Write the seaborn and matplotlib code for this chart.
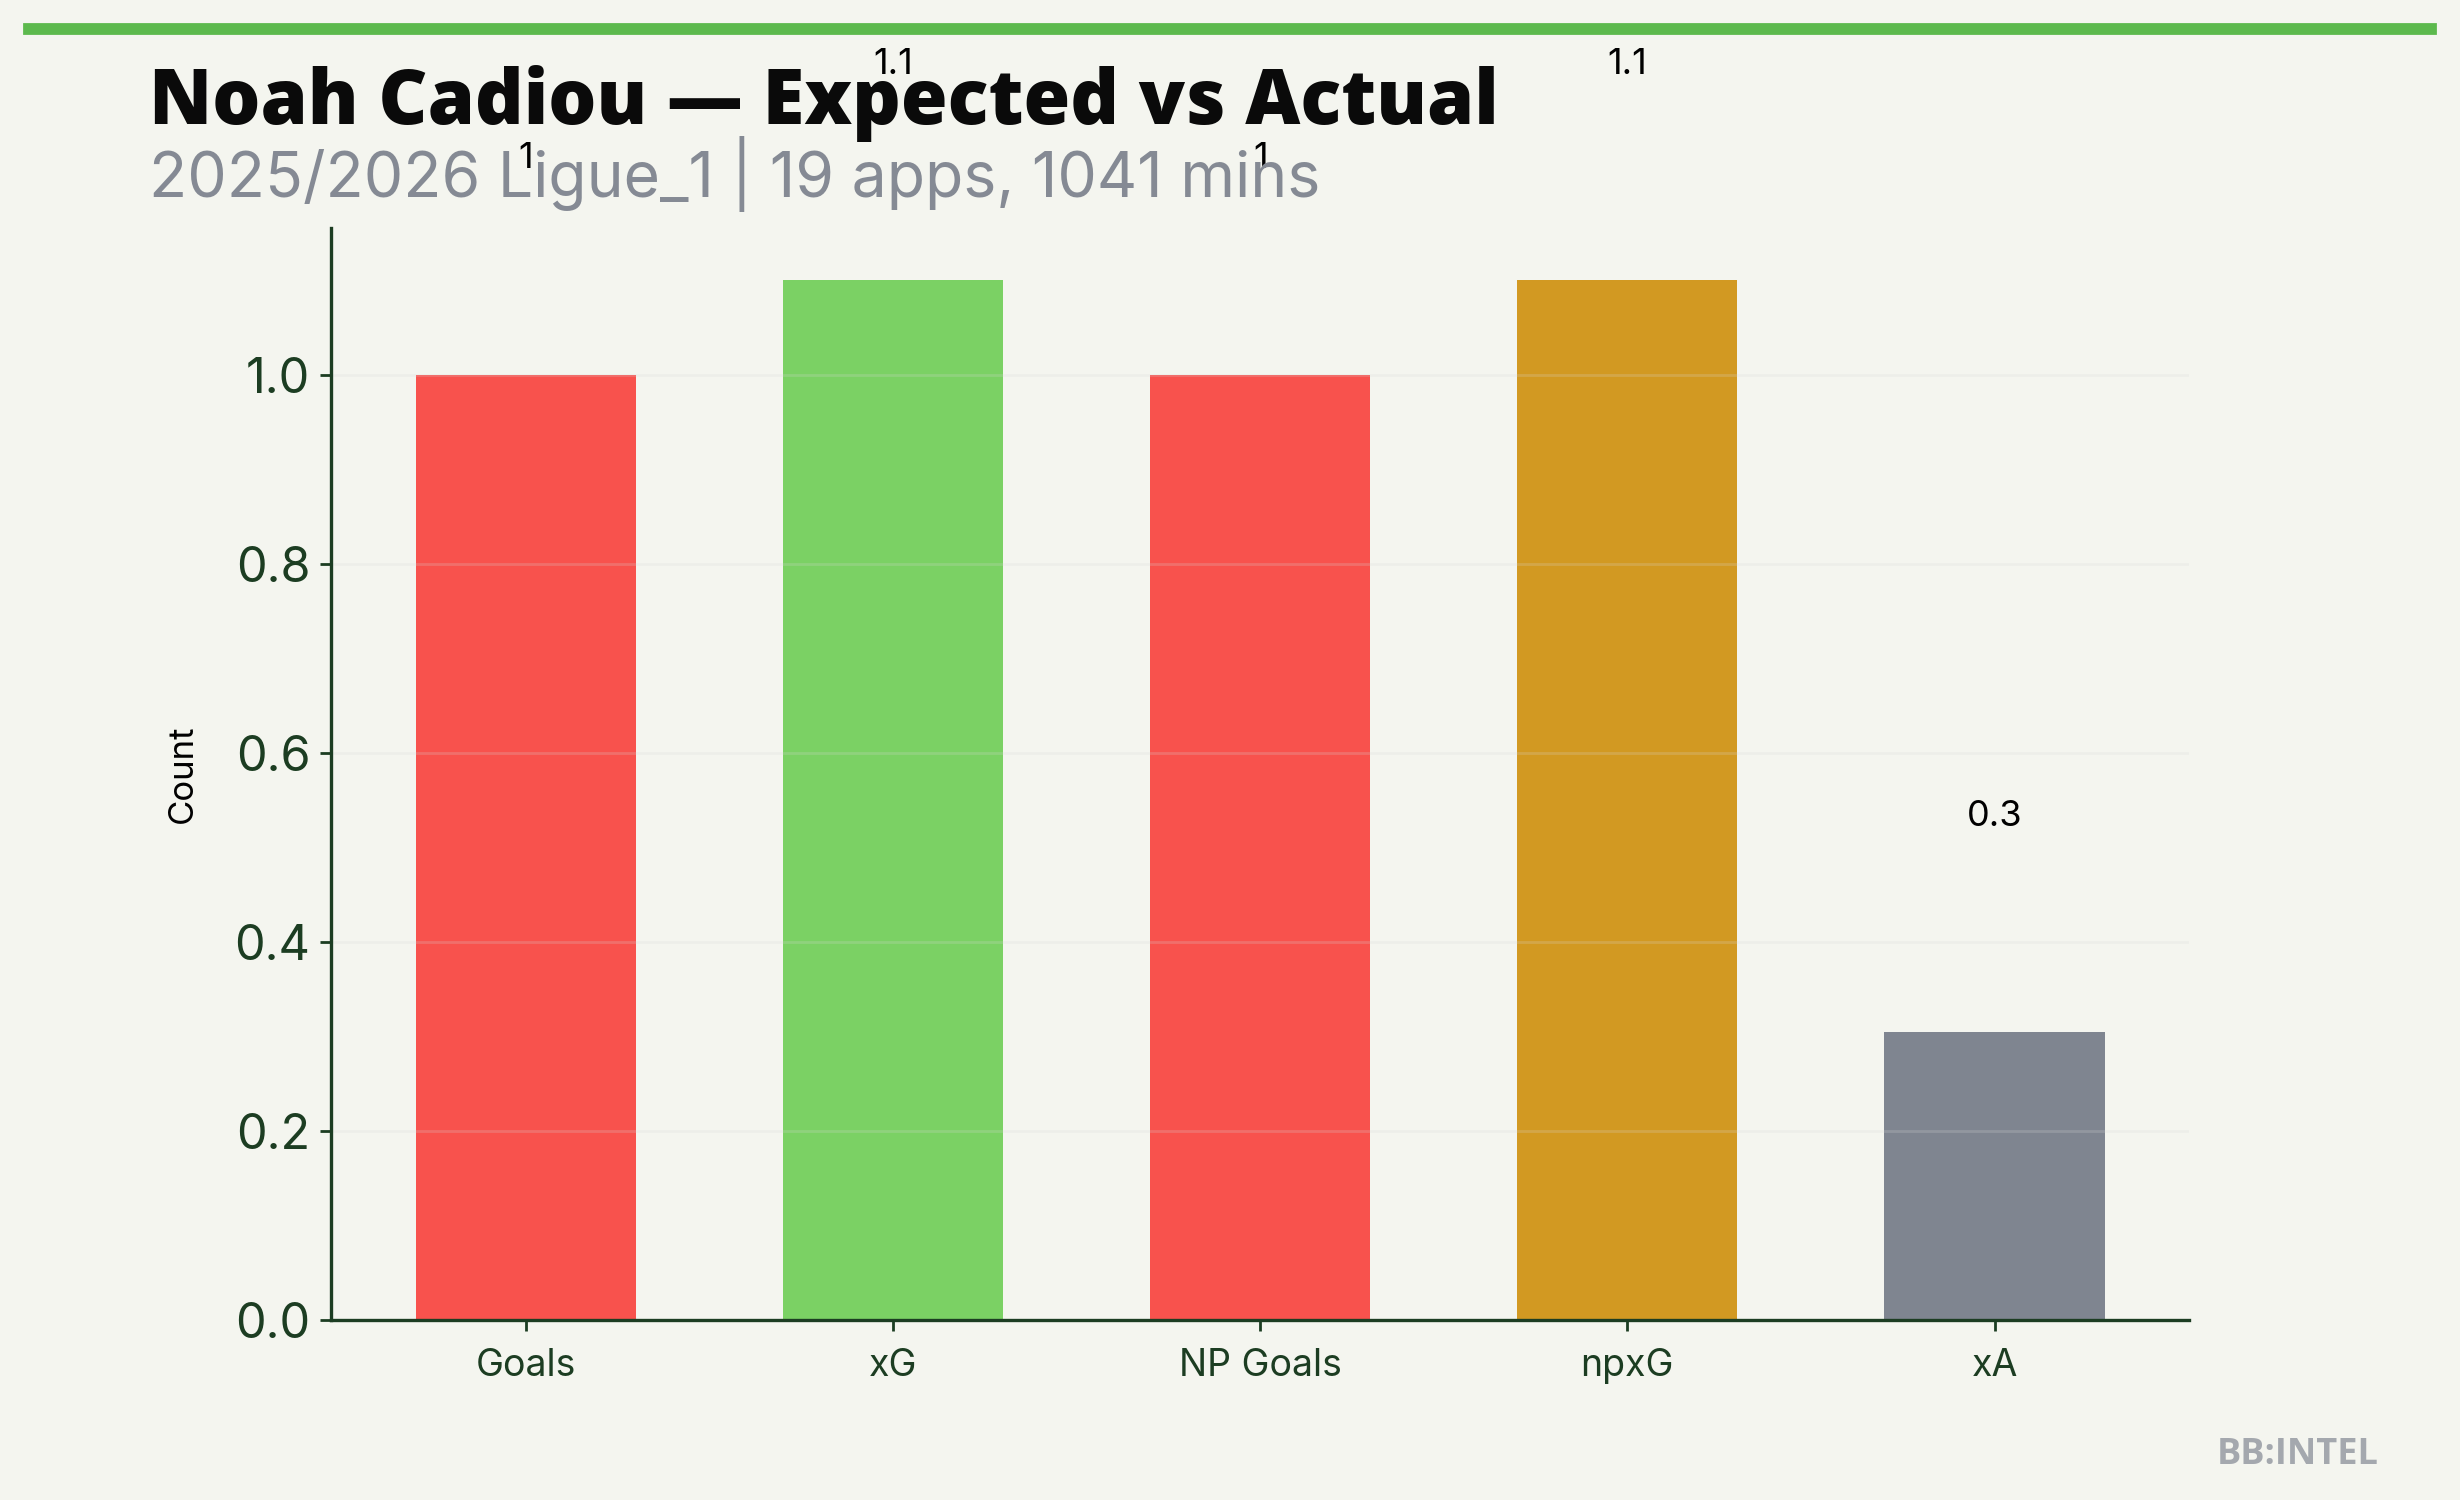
import matplotlib
matplotlib.use("Agg")
import matplotlib.pyplot as plt
import seaborn as sns
import pandas as pd

categories = ["Goals", "xG", "NP Goals", "npxG", "xA"]
values = [1.0, 1.1, 1.0, 1.1, 0.305]
value_labels = ["1", "1.1", "1", "1.1", "0.3"]
palette = {"Goals": "#f8524d", "xG": "#7bd164", "NP Goals": "#f8524d",
           "npxG": "#d29922", "xA": "#7f8590"}

title = "Noah Cadiou — Expected vs Actual"
subtitle = "2025/2026 Ligue_1 | 19 apps, 1041 mins"
ylabel = "Count"
watermark = "BB:INTEL"

BG = "#f4f5ef"
DARK = "#1c3d22"

sns.set_theme(style="white")
plt.rcParams['font.family'] = ['Inter', 'DejaVu Sans']

fig = plt.figure(figsize=(12.3, 7.5), dpi=200, facecolor=BG)
ax = fig.add_axes([0.1346, 0.12, 0.7553, 0.728])
ax.set_facecolor(BG)

df = pd.DataFrame({"metric": categories, "value": values})
sns.barplot(data=df, x="metric", y="value", hue="metric", palette=palette,
            order=categories, width=0.6, legend=False, ax=ax, saturation=1,
            linewidth=0, edgecolor="none")

ax.set_ylim(0, 1.155)
ax.set_xlim(-0.53, 4.53)
ax.set_yticks([0.0, 0.2, 0.4, 0.6, 0.8, 1.0])
ax.set_yticklabels(["0.0", "0.2", "0.4", "0.6", "0.8", "1.0"])
ax.yaxis.grid(True, color="#d8d8d8", alpha=0.22, linewidth=1.0)
ax.set_axisbelow(False)
for b in ax.patches:
    b.set_zorder(1)
    b.set_linewidth(0)

for s in ["top", "right"]:
    ax.spines[s].set_visible(False)
for s in ["left", "bottom"]:
    ax.spines[s].set_color(DARK)
    ax.spines[s].set_linewidth(1.2)
    ax.spines[s].set_zorder(4)

ax.tick_params(axis="y", labelsize=17.5, colors=DARK, length=4, width=1.0, left=True)
ax.tick_params(axis="x", labelsize=13.5, colors=DARK, length=4, width=1.0,
               bottom=True, pad=6)
ax.set_xlabel("")
ax.set_ylabel(ylabel, fontsize=12.5, color="black")
ax.yaxis.set_label_coords(-0.071, 0.5)

for i, (v, lab) in enumerate(zip(values, value_labels)):
    ax.text(i, v + 0.228, lab, ha="center", va="center", fontsize=13,
            color="black", clip_on=False)

# top accent bar
fig.patches.append(matplotlib.patches.Rectangle((0.0098, 0.978), 0.9800, 0.006,
                   transform=fig.transFigure, color="#5cb94d", zorder=0))

fig.text(0.0606, 0.917, title, fontsize=27.3, fontweight="heavy",
         color="#0a0a0a", family=["Open Sans", "DejaVu Sans"])
fig.text(0.0606, 0.869, subtitle, fontsize=22.5, color="#858a94",
         family=["Inter", "DejaVu Sans"])
fig.text(0.967, 0.024, watermark, fontsize=13, fontweight="bold",
         color="#a4a8ae", ha="right", family=["Open Sans", "DejaVu Sans"])

fig.savefig("out.png", dpi=200, facecolor=BG)
